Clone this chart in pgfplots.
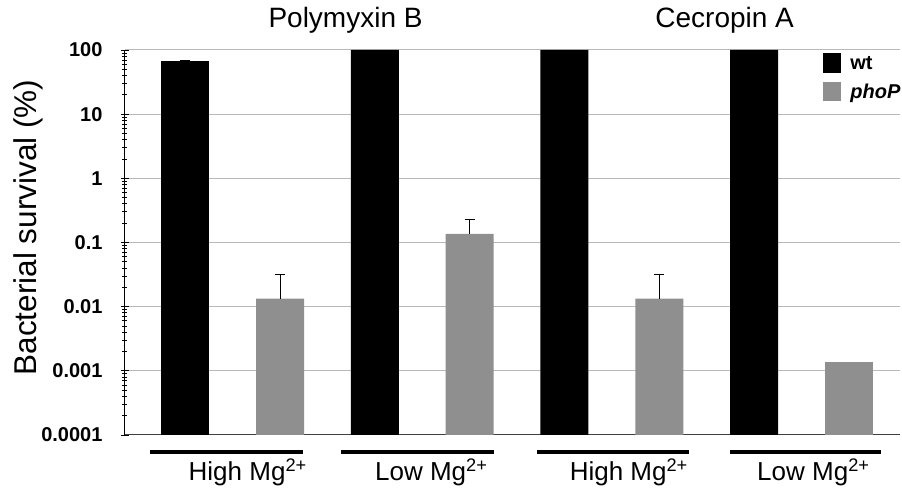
\documentclass[border=0pt]{standalone}
\usepackage{fontspec}
\setmainfont{Liberation Sans}
\usepackage{pgfplots}
\pgfplotsset{compat=1.18}
\definecolor{barGray}{RGB}{143,143,143}
\definecolor{gridGray}{RGB}{185,185,185}
\begin{document}
\begin{tikzpicture}
\begin{axis}[
  name=ax,
  scale only axis, width=775pt, height=385pt,
  ymode=log, ymin=1e-4, ymax=100, log origin y=infty,
  xmin=-0.637, xmax=7.54,
  axis lines*=left,
  x axis line style={draw=black!75, line width=1pt},
  y axis line style={draw=black, line width=1pt},
  xtick=\empty,
  ytick={1e-4,1e-3,1e-2,1e-1,1,10,100},
  yticklabels={0.0001,0.001,0.01,0.1,1,10,100},
  yticklabel style={font=\bfseries\fontsize{20}{22}\selectfont, xshift=-15pt},
  ymajorgrids, grid style={gridGray, line width=1pt},
  tick align=center, major tick length=8pt, minor tick length=5pt,
  tick style={black, line width=0.8pt},
  ybar, bar width=48pt, bar shift=0pt,
  clip=false,
  legend cell align=left,
  legend style={at={(axis description cs:0.897,0.997)}, anchor=north west,
    draw=none, fill=none, font=\bfseries\fontsize{20}{22}\selectfont,
    row sep=9pt},
  legend image code/.code={\fill[#1] (0pt,-9.5pt) rectangle (18pt,10pt);
    \path (25pt,0pt);},
  ylabel={Bacterial survival (\%)},
  ylabel style={at={(axis description cs:0,0.539)}, anchor=center,
    yshift=97pt, font=\fontsize{31.5}{36}\selectfont},
]
% wt, high Mg polymyxin (with error bar)
\addplot[fill=black, draw=none,
  error bars/.cd, y dir=plus, y explicit,
  error bar style={black, line width=0.8pt},
  error mark options={rotate=90, mark size=5pt, black, line width=0.8pt}]
  coordinates {(0,68) +- (0,2)};
\addlegendentry{wt}
% phoP with error bars
\addplot[fill=barGray, draw=none,
  error bars/.cd, y dir=plus, y explicit,
  error bar style={black, line width=0.8pt},
  error mark options={rotate=90, mark size=5pt, black, line width=0.8pt}]
  coordinates {(1,0.0134) +- (0,0.0186) (3,0.136) +- (0,0.097) (5,0.0134) +- (0,0.0186)};
\addlegendentry{\textit{phoP}}
% remaining bars without error bars
\addplot[fill=black, draw=none, forget plot] coordinates {(2,100) (4,100) (6,100)};
\addplot[fill=barGray, draw=none, forget plot] coordinates {(7,0.00138)};

% group titles
\node[font=\fontsize{28}{32}\selectfont] at ([yshift=30pt]axis cs:1.69,100) {Polymyxin B};
\node[font=\fontsize{28}{32}\selectfont] at ([yshift=30pt]axis cs:5.69,100) {Cecropin A};

% condition bars and labels below the axis
\draw[line width=4pt] ([yshift=-17pt]axis cs:-0.374,1e-4) -- ([yshift=-17pt]axis cs:1.237,1e-4);
\draw[line width=4pt] ([yshift=-17pt]axis cs:1.647,1e-4) -- ([yshift=-17pt]axis cs:3.258,1e-4);
\draw[line width=4pt] ([yshift=-17pt]axis cs:3.710,1e-4) -- ([yshift=-17pt]axis cs:5.311,1e-4);
\draw[line width=4pt] ([yshift=-17pt]axis cs:5.742,1e-4) -- ([yshift=-17pt]axis cs:7.342,1e-4);
\node[font=\fontsize{26}{30}\selectfont] at ([yshift=-37pt]axis cs:0.658,1e-4) {High Mg\textsuperscript{2+}};
\node[font=\fontsize{26}{30}\selectfont] at ([yshift=-37pt]axis cs:2.595,1e-4) {Low Mg\textsuperscript{2+}};
\node[font=\fontsize{26}{30}\selectfont] at ([yshift=-37pt]axis cs:4.679,1e-4) {High Mg\textsuperscript{2+}};
\node[font=\fontsize{26}{30}\selectfont] at ([yshift=-37pt]axis cs:6.626,1e-4) {Low Mg\textsuperscript{2+}};
\end{axis}
\pgfresetboundingbox
\path ([xshift=-125pt,yshift=-53pt]ax.south west) rectangle ([xshift=2pt,yshift=50pt]ax.north east);
\end{tikzpicture}
\end{document}
